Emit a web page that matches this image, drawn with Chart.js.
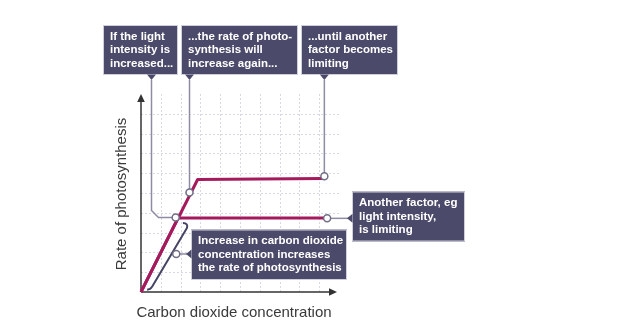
<!DOCTYPE html>
<html>
<head>
<meta charset="utf-8">
<script src="https://cdn.jsdelivr.net/npm/chart.js@4/dist/chart.umd.min.js"></script>
<style>
  html, body { margin: 0; padding: 0; background: #ffffff; }
  canvas { display: block; }
</style>
</head>
<body>
<canvas id="chart" width="626" height="335"></canvas>
<script>
// Grid divisions (both axes run 0..10, unlabelled)
const gridSteps = [1, 2, 3, 4, 5, 6, 7, 8, 9];

// Rate while another factor (light) is limiting
const limitedX = [0, 1.87, 9.35];
const limitedY = [0, 3.74, 3.74];

// Rate after light intensity is increased
const raisedX = [0, 2.86, 9.2];
const raisedY = [0, 5.68, 5.73];

// Callout anchor points (open circles)
const markerX = [1.75, 2.45, 9.26, 9.4, 1.78];
const markerY = [3.76, 5.03, 5.84, 3.72, 1.92];

// Callout texts
const topNotes = [
  ['If the light', 'intensity is', 'increased...'],
  ['...the rate of photo-', 'synthesis will', 'increase again...'],
  ['...until another', 'factor becomes', 'limiting']
];
const sideNote = ['Another factor, eg', 'light intensity,', 'is limiting'];
const lowNote = ['Increase in carbon dioxide', 'concentration increases', 'the rate of photosynthesis'];

const xTitle = 'Carbon dioxide concentration';
const yTitle = 'Rate of photosynthesis';

const RED = '#a51a5c';
const BOX = '#4c4a6b';
const LINK = '#8d8ca4';
const AXIS = '#333333';
const NOTE_FONT = 'bold 11.5px "Liberation Sans", Arial, sans-serif';

const toPts = (xs, ys) => xs.map((x, i) => ({ x: x, y: ys[i] }));

function drawBox(ctx, x, y, w, h, lines, pointer) {
  ctx.save();
  ctx.fillStyle = BOX;
  ctx.strokeStyle = '#cfcfdb';
  ctx.lineWidth = 1;
  ctx.fillRect(x, y, w, h);
  ctx.strokeRect(x + 0.5, y + 0.5, w - 1, h - 1);
  ctx.beginPath();
  if (pointer.side === 'bottom') {
    ctx.moveTo(pointer.at - 4.5, y + h - 0.5);
    ctx.lineTo(pointer.at + 4.5, y + h - 0.5);
    ctx.lineTo(pointer.at, y + h + 5);
  } else {
    ctx.moveTo(x + 0.5, pointer.at - 4.5);
    ctx.lineTo(x + 0.5, pointer.at + 4.5);
    ctx.lineTo(x - 5, pointer.at);
  }
  ctx.closePath();
  ctx.fill();
  ctx.fillStyle = '#ffffff';
  ctx.font = NOTE_FONT;
  ctx.textBaseline = 'middle';
  ctx.textAlign = 'left';
  lines.forEach((t, i) => ctx.fillText(t, x + 7, y + 11.5 + i * 13.5));
  ctx.restore();
}

const diagramPlugin = {
  id: 'diagram',
  beforeDatasetsDraw(chart) {
    const ctx = chart.ctx;
    const px = v => chart.scales.x.getPixelForValue(v);
    const py = v => chart.scales.y.getPixelForValue(v);
    const x0 = px(0), x1 = px(10), y0 = py(0), y1 = py(10);

    ctx.save();
    // dashed grid
    ctx.strokeStyle = '#d8d8e2';
    ctx.lineWidth = 1;
    ctx.setLineDash([2, 2]);
    gridSteps.forEach(s => {
      const gx = Math.round(px(s)) + 0.5;
      const gy = Math.round(py(s)) + 0.5;
      ctx.beginPath(); ctx.moveTo(gx, y0); ctx.lineTo(gx, y1); ctx.stroke();
      ctx.beginPath(); ctx.moveTo(x0, gy); ctx.lineTo(x1, gy); ctx.stroke();
    });
    ctx.setLineDash([]);

    // axes with arrowheads
    const xTip = x1 - 2;
    ctx.strokeStyle = AXIS;
    ctx.fillStyle = AXIS;
    ctx.lineWidth = 1.5;
    ctx.beginPath(); ctx.moveTo(x0, y0); ctx.lineTo(x0, y1 + 6); ctx.stroke();
    ctx.beginPath(); ctx.moveTo(x0, y0); ctx.lineTo(xTip - 6, y0); ctx.stroke();
    ctx.beginPath();
    ctx.moveTo(x0, y1); ctx.lineTo(x0 - 3.8, y1 + 8); ctx.lineTo(x0 + 3.8, y1 + 8); ctx.closePath(); ctx.fill();
    ctx.beginPath();
    ctx.moveTo(xTip, y0); ctx.lineTo(xTip - 8, y0 - 3.8); ctx.lineTo(xTip - 8, y0 + 3.8); ctx.closePath(); ctx.fill();

    // connector lines from the callouts to the anchor points
    const m = markerX.map((x, i) => ({ x: px(x), y: py(markerY[i]) }));
    ctx.strokeStyle = LINK;
    ctx.lineWidth = 1.5;
    ctx.beginPath();
    ctx.moveTo(151.5, 80); ctx.lineTo(151.5, m[0].y - 7); ctx.lineTo(158.5, m[0].y); ctx.lineTo(m[0].x, m[0].y);
    ctx.stroke();
    ctx.beginPath(); ctx.moveTo(m[1].x, 80); ctx.lineTo(m[1].x, m[1].y); ctx.stroke();
    ctx.beginPath(); ctx.moveTo(m[2].x, 80); ctx.lineTo(m[2].x, m[2].y); ctx.stroke();
    ctx.beginPath(); ctx.moveTo(m[3].x, m[3].y); ctx.lineTo(348, m[3].y); ctx.stroke();

    // bracket alongside the rising section
    const bTop = { x: px(2.32), y: py(3.23) };
    const bBot = { x: px(0.56), y: py(0.27) };
    ctx.strokeStyle = '#454465';
    ctx.lineWidth = 2;
    ctx.lineJoin = 'round';
    ctx.beginPath();
    ctx.moveTo(bTop.x - 4, bTop.y - 5);
    ctx.quadraticCurveTo(bTop.x + 1.5, bTop.y - 5, bTop.x, bTop.y);
    ctx.lineTo(bBot.x, bBot.y);
    ctx.quadraticCurveTo(bBot.x - 1.5, bBot.y + 3, bBot.x - 5, bBot.y + 3);
    ctx.stroke();
    const t = (m[4].y - bTop.y) / (bBot.y - bTop.y);
    const nubX = bTop.x + t * (bBot.x - bTop.x);
    ctx.strokeStyle = LINK;
    ctx.lineWidth = 1.5;
    ctx.beginPath(); ctx.moveTo(nubX + 1, m[4].y); ctx.lineTo(187, m[4].y); ctx.stroke();
    ctx.restore();
  },
  afterDraw(chart) {
    const ctx = chart.ctx;
    const px = v => chart.scales.x.getPixelForValue(v);
    const py = v => chart.scales.y.getPixelForValue(v);

    drawBox(ctx, 103, 25, 75, 50, topNotes[0], { side: 'bottom', at: 151.5 });
    drawBox(ctx, 181, 25, 117, 50, topNotes[1], { side: 'bottom', at: px(markerX[1]) });
    drawBox(ctx, 301, 25, 97, 50, topNotes[2], { side: 'bottom', at: px(markerX[2]) });
    drawBox(ctx, 352, 191.5, 113, 50, sideNote, { side: 'left', at: py(markerY[3]) });
    drawBox(ctx, 191, 229.5, 156, 50.5, lowNote, { side: 'left', at: py(markerY[4]) });

    ctx.save();
    ctx.fillStyle = '#3a3a3a';
    ctx.font = '15px "Liberation Sans", Arial, sans-serif';
    ctx.textAlign = 'center';
    ctx.textBaseline = 'middle';
    ctx.fillText(xTitle, 234, 313);
    ctx.translate(122, 194);
    ctx.rotate(-Math.PI / 2);
    ctx.fillText(yTitle, 0, 0);
    ctx.restore();
  }
};

new Chart(document.getElementById('chart'), {
  type: 'scatter',
  data: {
    datasets: [
      {
        label: 'anchors',
        data: toPts(markerX, markerY),
        pointRadius: 3.5,
        pointHoverRadius: 3.5,
        pointBackgroundColor: '#ffffff',
        pointBorderColor: '#6f6e86',
        pointBorderWidth: 1.5,
        showLine: false,
        clip: false,
        order: 0
      },
      {
        label: 'raised',
        data: toPts(raisedX, raisedY),
        showLine: true,
        borderColor: RED,
        borderWidth: 3,
        pointRadius: 0,
        borderJoinStyle: 'round',
        clip: false,
        order: 1
      },
      {
        label: 'limited',
        data: toPts(limitedX, limitedY),
        showLine: true,
        borderColor: RED,
        borderWidth: 3,
        pointRadius: 0,
        borderJoinStyle: 'round',
        clip: false,
        order: 2
      }
    ]
  },
  options: {
    responsive: false,
    devicePixelRatio: 1,
    animation: false,
    events: [],
    layout: { padding: { left: 141, right: 287, top: 94, bottom: 43 } },
    plugins: { legend: { display: false }, tooltip: { enabled: false } },
    scales: {
      x: { type: 'linear', min: 0, max: 10, display: false },
      y: { type: 'linear', min: 0, max: 10, display: false }
    }
  },
  plugins: [diagramPlugin]
});
</script>
</body>
</html>
